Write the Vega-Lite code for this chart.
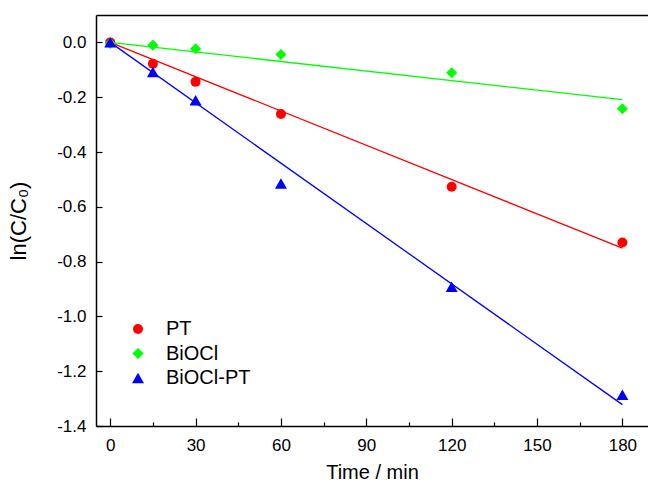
{
  "$schema": "https://vega.github.io/schema/vega-lite/v6.json",
  "autosize": "none",
  "width": 552,
  "height": 411,
  "padding": {"left": 96, "top": 15, "right": 0, "bottom": 59},
  "background": "white",
  "datasets": {
    "points": [
      {"time": 0, "value": 0.0, "series": "PT"},
      {"time": 15, "value": -0.078, "series": "PT"},
      {"time": 30, "value": -0.144, "series": "PT"},
      {"time": 60, "value": -0.261, "series": "PT"},
      {"time": 120, "value": -0.527, "series": "PT"},
      {"time": 180, "value": -0.73, "series": "PT"},
      {"time": 0, "value": -0.004, "series": "BiOCl"},
      {"time": 15, "value": -0.01, "series": "BiOCl"},
      {"time": 30, "value": -0.023, "series": "BiOCl"},
      {"time": 60, "value": -0.044, "series": "BiOCl"},
      {"time": 120, "value": -0.111, "series": "BiOCl"},
      {"time": 180, "value": -0.242, "series": "BiOCl"},
      {"time": 0, "value": 0.0, "series": "BiOCl-PT"},
      {"time": 15, "value": -0.108, "series": "BiOCl-PT"},
      {"time": 30, "value": -0.211, "series": "BiOCl-PT"},
      {"time": 60, "value": -0.515, "series": "BiOCl-PT"},
      {"time": 120, "value": -0.892, "series": "BiOCl-PT"},
      {"time": 180, "value": -1.286, "series": "BiOCl-PT"}
    ],
    "fits": [
      {"time": 0, "value": 0.0, "series": "PT"},
      {"time": 180, "value": -0.751, "series": "PT"},
      {"time": 0, "value": 0.0, "series": "BiOCl"},
      {"time": 180, "value": -0.209, "series": "BiOCl"},
      {"time": 0, "value": 0.0, "series": "BiOCl-PT"},
      {"time": 180, "value": -1.322, "series": "BiOCl-PT"}
    ]
  },
  "layer": [
    {
      "data": {"name": "fits"},
      "transform": [{"filter": "datum.series == 'PT'"}],
      "mark": {"type": "line", "strokeWidth": 1.3, "color": "#ff0000"},
      "encoding": {
        "x": {"field": "time", "type": "quantitative", "axis": null},
        "y": {"field": "value", "type": "quantitative"}
      }
    },
    {
      "data": {"name": "fits"},
      "transform": [{"filter": "datum.series == 'BiOCl'"}],
      "mark": {"type": "line", "strokeWidth": 1.3, "color": "#00ff00"},
      "encoding": {
        "x": {"field": "time", "type": "quantitative", "axis": null},
        "y": {"field": "value", "type": "quantitative"}
      }
    },
    {
      "data": {"name": "fits"},
      "transform": [{"filter": "datum.series == 'BiOCl-PT'"}],
      "mark": {"type": "line", "strokeWidth": 1.3, "color": "#0000ff"},
      "encoding": {
        "x": {"field": "time", "type": "quantitative", "axis": null},
        "y": {"field": "value", "type": "quantitative"}
      }
    },
    {
      "data": {"name": "points"},
      "mark": {"type": "point", "filled": true, "opacity": 1},
      "encoding": {
        "x": {
          "field": "time",
          "type": "quantitative",
          "scale": {"domain": [-5, 189], "nice": false, "zero": false},
          "axis": {
            "orient": "bottom",
            "title": "Time / min",
            "values": [0, 15, 30, 45, 60, 75, 90, 105, 120, 135, 150, 165, 180],
            "labelExpr": "datum.value % 30 == 0 ? format(datum.value, 'd') : ''",
            "tickSize": {"condition": {"test": "datum.value % 30 == 0", "value": -8}, "value": -4},
            "labelPadding": 19,
            "titlePadding": 9
          }
        },
        "y": {
          "field": "value",
          "type": "quantitative",
          "scale": {"domain": [-1.4, 0.1], "nice": false, "zero": false},
          "axis": {
            "orient": "left",
            "title": "ln(C/C\u2080)",
            "titleFontSize": 22,
            "values": [-1.4, -1.3, -1.2, -1.1, -1.0, -0.9, -0.8, -0.7, -0.6, -0.5, -0.4, -0.3, -0.2, -0.1, 0.0],
            "labelExpr": "abs(round(datum.value*10)) % 2 == 0 ? replace(format(datum.value, '.1f'), '\u2212', '-') : ''",
            "tickSize": {"condition": {"test": "abs(round(datum.value*10)) % 2 == 0", "value": -6}, "value": -4},
            "labelPadding": 16,
            "titlePadding": 26
          }
        },
        "color": {
          "field": "series",
          "type": "nominal",
          "scale": {"domain": ["PT", "BiOCl", "BiOCl-PT"], "range": ["#ff0000", "#00ff00", "#0000ff"]},
          "legend": {"title": null, "orient": "none", "legendX": 32, "legendY": 304}
        },
        "shape": {
          "field": "series",
          "type": "nominal",
          "scale": {"domain": ["PT", "BiOCl", "BiOCl-PT"], "range": ["circle", "diamond", "triangle-up"]},
          "legend": {"title": null, "orient": "none", "legendX": 32, "legendY": 304}
        },
        "size": {
          "field": "series",
          "type": "nominal",
          "scale": {"domain": ["PT", "BiOCl", "BiOCl-PT"], "range": [100, 144, 140]},
          "legend": {"title": null, "orient": "none", "legendX": 32, "legendY": 304}
        }
      }
    },
    {
      "data": {"name": "fits"},
      "mark": {"type": "rule", "opacity": 0},
      "encoding": {
        "x": {
          "field": "time",
          "type": "quantitative",
          "axis": {"orient": "top", "title": null, "labels": false, "ticks": false, "domain": true}
        }
      }
    }
  ],
  "resolve": {"axis": {"x": "independent"}},
  "config": {
    "view": {"stroke": null},
    "font": "Liberation Sans",
    "axis": {
      "grid": false,
      "domainColor": "#000000",
      "domainWidth": 1.5,
      "tickColor": "#000000",
      "tickWidth": 1.2,
      "labelColor": "#000000",
      "labelFont": "Liberation Sans",
      "labelFontSize": 17,
      "titleColor": "#000000",
      "titleFont": "Liberation Sans",
      "titleFontSize": 20,
      "titleFontWeight": "normal"
    },
    "legend": {
      "padding": 0,
      "labelFont": "Liberation Sans",
      "labelFontSize": 20,
      "labelColor": "#000000",
      "labelOffset": 18,
      "rowPadding": 4.5
    }
  }
}
